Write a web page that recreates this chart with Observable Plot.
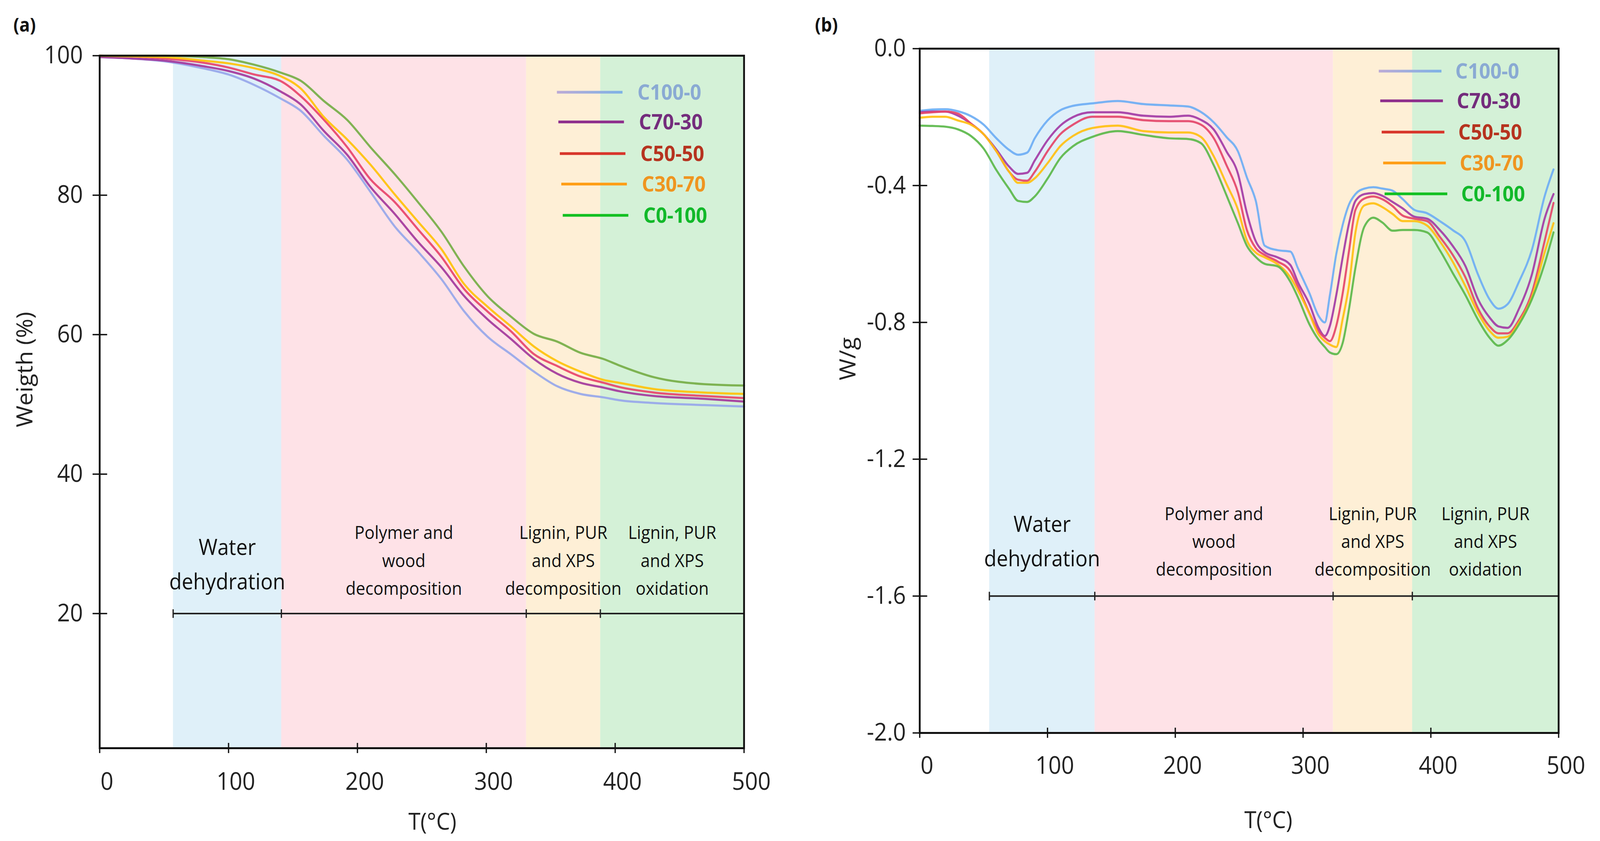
<!DOCTYPE html>
<html>
<head>
<meta charset="utf-8">
<script src="https://cdn.jsdelivr.net/npm/d3@7"></script>
<script src="https://cdn.jsdelivr.net/npm/@observablehq/plot@0.6"></script>
<style>
  html, body { margin: 0; padding: 0; background: #fff; overflow: hidden; }
  #outer { position: relative; overflow: hidden; width: 4390px; height: 2152px; background: #fff; }
  #wrap { position: absolute; left: 0; top: 0; width: 4390px; height: 2152px; background: #fff; transform-origin: 0 0; }
  #wrap > svg { position: absolute; top: 0; max-width: none !important; }
</style>
</head>
<body>
<div id="outer"><div id="wrap"></div></div>
<script>
// ---------------- data ----------------
const series = ["C100-0", "C70-30", "C50-50", "C30-70", "C0-100"];

// (a) TGA: weight (%) vs temperature
const tgaT      = [0, 25, 50, 80, 100, 120, 140, 156, 174, 192, 210, 229, 247, 265, 283, 301, 319, 337, 355, 373, 391, 403, 430, 469, 500];
const tgaC100_0 = [99.8, 99.6, 99.2, 98.2, 97.3, 95.8, 93.9, 92.1, 88.5, 85.1, 80.5, 75.5, 71.9, 68.0, 63.3, 59.7, 57.2, 54.7, 52.6, 51.5, 51.0, 50.6, 50.2, 49.9, 49.7];
const tgaC70_30 = [99.8, 99.6, 99.3, 98.5, 97.8, 96.7, 94.9, 93.0, 89.2, 85.8, 81.2, 77.3, 73.3, 69.7, 65.5, 62.2, 59.4, 56.5, 54.4, 53.1, 52.4, 51.9, 51.2, 50.8, 50.4];
const tgaC50_50 = [100, 99.9, 99.6, 99.0, 98.3, 97.3, 96.4, 94.2, 90.8, 86.9, 82.3, 79.0, 75.1, 71.2, 66.5, 63.3, 60.5, 57.2, 55.5, 54.0, 53.1, 52.5, 51.7, 51.2, 50.9];
const tgaC30_70 = [100, 99.9, 99.8, 99.3, 98.9, 98.2, 97.1, 95.3, 91.2, 88.0, 84.4, 80.1, 76.2, 72.3, 67.2, 64.0, 61.2, 58.3, 56.2, 54.7, 53.5, 53.1, 52.2, 51.7, 51.5];
const tgaC0_100 = [100, 100, 100, 99.8, 99.5, 98.7, 97.6, 96.4, 93.5, 90.8, 86.9, 83.0, 79.0, 74.8, 69.7, 65.5, 62.6, 60.1, 59.0, 57.4, 56.5, 55.6, 53.9, 52.9, 52.7];

// (b) DSC: heat flow (W/g) vs temperature
const dscT = [0, 10, 20, 30, 40, 50, 60, 70, 77, 84, 90, 100, 110, 120, 135, 155, 175, 195, 210, 220, 230, 240, 249, 256, 263, 270, 280, 290, 296, 305, 312, 317, 321, 326, 331, 336, 341, 348, 355, 362, 370, 378, 387, 397, 407, 417, 427, 437, 446, 453, 460, 469, 479, 489, 496];
const dscC100_0 = [-0.182, -0.178, -0.177, -0.183, -0.197, -0.222, -0.262, -0.296, -0.310, -0.304, -0.262, -0.210, -0.180, -0.167, -0.160, -0.153, -0.162, -0.166, -0.169, -0.185, -0.215, -0.258, -0.300, -0.376, -0.445, -0.576, -0.589, -0.593, -0.642, -0.715, -0.780, -0.800, -0.720, -0.600, -0.515, -0.455, -0.425, -0.409, -0.405, -0.409, -0.415, -0.440, -0.471, -0.481, -0.504, -0.530, -0.563, -0.661, -0.733, -0.760, -0.747, -0.681, -0.589, -0.432, -0.353];
const dscC70_30 = [-0.186, -0.184, -0.184, -0.196, -0.219, -0.250, -0.295, -0.345, -0.366, -0.363, -0.327, -0.268, -0.225, -0.200, -0.186, -0.186, -0.196, -0.199, -0.196, -0.208, -0.236, -0.300, -0.365, -0.480, -0.563, -0.595, -0.610, -0.632, -0.683, -0.747, -0.815, -0.840, -0.810, -0.720, -0.610, -0.510, -0.445, -0.425, -0.422, -0.430, -0.448, -0.467, -0.491, -0.497, -0.530, -0.576, -0.635, -0.733, -0.786, -0.812, -0.816, -0.760, -0.661, -0.497, -0.425];
const dscC50_50 = [-0.189, -0.186, -0.184, -0.190, -0.219, -0.250, -0.300, -0.360, -0.383, -0.386, -0.360, -0.300, -0.250, -0.222, -0.199, -0.199, -0.209, -0.212, -0.212, -0.222, -0.261, -0.340, -0.420, -0.530, -0.583, -0.603, -0.622, -0.650, -0.696, -0.773, -0.825, -0.845, -0.855, -0.810, -0.715, -0.590, -0.471, -0.438, -0.432, -0.440, -0.460, -0.488, -0.497, -0.504, -0.550, -0.602, -0.668, -0.760, -0.812, -0.832, -0.832, -0.793, -0.714, -0.563, -0.451];
const dscC30_70 = [-0.202, -0.199, -0.199, -0.210, -0.222, -0.250, -0.300, -0.360, -0.392, -0.392, -0.379, -0.335, -0.285, -0.255, -0.232, -0.225, -0.241, -0.245, -0.245, -0.258, -0.314, -0.395, -0.470, -0.560, -0.596, -0.610, -0.630, -0.668, -0.707, -0.775, -0.835, -0.855, -0.865, -0.872, -0.790, -0.690, -0.537, -0.458, -0.452, -0.463, -0.483, -0.504, -0.504, -0.517, -0.563, -0.622, -0.694, -0.773, -0.825, -0.845, -0.842, -0.800, -0.727, -0.596, -0.510];
const dscC0_100 = [-0.225, -0.226, -0.228, -0.236, -0.255, -0.292, -0.355, -0.410, -0.445, -0.448, -0.432, -0.380, -0.320, -0.285, -0.258, -0.241, -0.252, -0.262, -0.264, -0.276, -0.340, -0.428, -0.510, -0.576, -0.609, -0.629, -0.636, -0.681, -0.727, -0.806, -0.850, -0.872, -0.888, -0.893, -0.860, -0.760, -0.640, -0.520, -0.494, -0.508, -0.532, -0.530, -0.530, -0.537, -0.589, -0.655, -0.720, -0.793, -0.845, -0.868, -0.852, -0.806, -0.733, -0.629, -0.537];

// temperature regions
const regionNames = ["Water\ndehydration", "Polymer and\nwood\ndecomposition", "Lignin, PUR\nand XPS\ndecomposition", "Lignin, PUR\nand XPS\noxidation"];
const regionStartA = [57, 141, 331, 388.5];
const regionEndA   = [141, 331, 388.5, 500];
const regionStartB = [54.5, 137, 323.5, 385.5];
const regionEndB   = [137, 323.5, 385.5, 500];
const bracketA = 20;
const bracketB = -1.6;

// ticks
const xTicks  = [0, 100, 200, 300, 400, 500];
const yTicksA = [20, 40, 60, 80, 100];
const yTicksB = [0, -0.4, -0.8, -1.2, -1.6, -2.0];

// ---------------- styles ----------------
const bandColors   = ["#dff0f9", "#fee2e7", "#feefd6", "#d4f1d7"];
const curveColorsA = ["#97a7ea", "#a4399c", "#e8456b", "#ffc20a", "#76ae47"];
const curveColorsB = ["#6eaef4", "#a33ca6", "#e4466a", "#ffc012", "#5cb94b"];
const legendLineColors = [null, "#8e2e8c", "#d8352a", "#ff9d14", "#12c021"];
const legendTextColors = ["#8aaad3", "#742c7c", "#b6331f", "#ef9520", "#12b92a"];
const FONT = "'Open Sans', 'Noto Sans', sans-serif";
const W = 4390, H = 2152;

function tidy(T, arrays) {
  const out = [];
  arrays.forEach((a, k) => {
    const n = Math.min(T.length, a.length);
    for (let i = 0; i < n; ++i) out.push({T: T[i], v: a[i], s: series[k]});
  });
  return out;
}
const tgaData = tidy(tgaT, [tgaC100_0, tgaC70_30, tgaC50_50, tgaC30_70, tgaC0_100]);
const dscData = tidy(dscT, [dscC100_0, dscC70_30, dscC50_50, dscC30_70, dscC0_100]);

const vbar = {draw(ctx, size) { const r = Math.sqrt(size / Math.PI); ctx.moveTo(0, -r); ctx.lineTo(0, r); }};

function panel(o) {
  const regions = regionNames.map((name, i) => ({
    name, i, x1: o.start[i], x2: o.end[i], mid: (o.start[i] + o.end[i]) / 2
  }));
  const bracketTicks = [...o.start, 500];
  const marks = [];
  regions.forEach((r, i) => marks.push(Plot.rect([r], {x1: "x1", x2: "x2", fill: bandColors[i]})));
  series.forEach((s, k) => marks.push(
    Plot.line(o.data.filter(d => d.s === s), {x: "T", y: "v", stroke: o.colors[k], strokeWidth: 5.5, strokeOpacity: 0.92, curve: "monotone-x"})
  ));
  marks.push(
    Plot.ruleY([o.bracket], {x1: o.start[0], x2: 500, stroke: "#222", strokeWidth: 4}),
    Plot.dot(bracketTicks, {x: d => d, y: () => o.bracket, symbol: vbar, r: 11, fill: "none", stroke: "#222", strokeWidth: 3.5}),
    Plot.text(regions.filter(d => d.i === 0), {x: "mid", y: () => o.bracket, text: "name", lineAnchor: "bottom", lineHeight: 1.58, fontSize: 56, dy: o.dyWater, fill: "#111"}),
    Plot.text(regions.filter(d => d.i > 0), {x: "mid", y: () => o.bracket, text: "name", lineAnchor: "bottom", lineHeight: 1.55, fontSize: 46, dy: o.dyOther, fill: "#111"}),
    Plot.frame({stroke: "#111", strokeWidth: 5}),
    // tick marks crossing the axes
    Plot.axisY({ticks: o.yTicks, tickSize: 40, dx: 21, tickFormat: () => "", stroke: "#111", strokeWidth: 3.5, label: null}),
    Plot.axisX({ticks: xTicks, tickSize: 26, dy: -13, tickFormat: () => "", stroke: "#111", strokeWidth: 3.5, label: null}),
    // tick labels
    Plot.axisY({ticks: o.yTicks, tickSize: 0, tickPadding: o.yPad, tickFormat: o.yFmt, fontSize: 62, fill: "#222", label: null}),
    Plot.axisX({ticks: xTicks, tickSize: 0, tickPadding: o.xPad, dx: 20, tickFormat: d => String(d), fontSize: 62, fill: "#222", label: null}),
    // axis titles & panel tag
    Plot.text([o.yLabel], {frameAnchor: "left", textAnchor: "middle", lineAnchor: "middle", rotate: -90, dx: o.yLabelDx, dy: o.yLabelDy, fontSize: 60, fill: "#222"}),
    Plot.text(["T(°C)"], {frameAnchor: "bottom", textAnchor: "middle", lineAnchor: "middle", dx: o.xLabelDx, dy: o.xLabelDy, fontSize: 60, fill: "#222"}),
    Plot.text([o.tag], {frameAnchor: "top-left", textAnchor: "middle", lineAnchor: "middle", dx: o.tagDx, dy: o.tagDy, fontSize: 48, fontWeight: "bold", fill: "#111"})
  );
  const svg = Plot.plot({
    width: o.width, height: H,
    marginLeft: o.ml, marginRight: o.mr, marginTop: o.mt, marginBottom: o.mb,
    style: {fontFamily: FONT, background: "transparent", overflow: "visible"},
    x: {domain: [0, 500]},
    y: {domain: o.yDomain},
    marks
  });
  svg.style.left = o.left + "px";
  return svg;
}

const outer = document.getElementById("outer");
const wrap = document.getElementById("wrap");

wrap.appendChild(panel({
  left: 0, width: 2190, ml: 273, mr: 149, mt: 142, mb: 238,
  data: tgaData, colors: curveColorsA, yDomain: [0.7, 100], yTicks: yTicksA, yFmt: d => String(d),
  start: regionStartA, end: regionEndA, bracket: bracketA, dyWater: -62, dyOther: -48,
  yPad: 46, xPad: 62, yLabel: "Weigth (%)", yLabelDx: -204, yLabelDy: -83,
  xLabelDx: 29, xLabelDy: 189, tag: "(a)", tagDx: -206, tagDy: -77
}));

wrap.appendChild(panel({
  left: 2200, width: 2190, ml: 323, mr: 114, mt: 124, mb: 277,
  data: dscData, colors: curveColorsB, yDomain: [-2, 0], yTicks: yTicksB, yFmt: d => d.toFixed(1),
  start: regionStartB, end: regionEndB, bracket: bracketB, dyWater: -76, dyOther: -52,
  yPad: 38, xPad: 60, yLabel: "W/g", yLabelDx: -195, yLabelDy: -82,
  xLabelDx: 80, xLabelDy: 224, tag: "(b)", tagDx: -256, tagDy: -59
}));

// ---------------- legends (inside each plot) ----------------
const ov = d3.select(wrap).append("svg")
  .attr("width", W).attr("height", H)
  .style("left", "0px").style("pointer-events", "none");
const defs = ov.append("defs");

function legend(id, L) {
  const g = defs.append("linearGradient").attr("id", id).attr("gradientUnits", "userSpaceOnUse")
    .attr("x1", L.x1).attr("x2", L.x2).attr("y1", 0).attr("y2", 0);
  g.append("stop").attr("offset", "0%").attr("stop-color", "#bcaad6");
  g.append("stop").attr("offset", "100%").attr("stop-color", "#7db2e6");
  series.forEach((s, i) => {
    const y = L.rows[i], sh = L.stair * i;
    ov.append("line").attr("x1", L.x1 + sh).attr("x2", L.x2 + sh).attr("y1", y).attr("y2", y)
      .attr("stroke", i === 0 ? `url(#${id})` : legendLineColors[i]).attr("stroke-width", 7);
    ov.append("text").attr("x", L.tx + sh).attr("y", y).attr("dy", "0.36em")
      .attr("font-family", FONT).attr("font-weight", 700).attr("font-size", 54)
      .attr("fill", legendTextColors[i]).text(s);
  });
}
legend("lgA", {x1: 1528, x2: 1708, tx: 1749, rows: [236, 312, 393, 471, 551], stair: 4});
legend("lgB", {x1: 3783, x2: 3955, tx: 3993, rows: [182, 258, 338, 417, 496], stair: 4});

// map the 4390x2152 drawing exactly onto the viewport, whatever its CSS size
function fit() {
  const vw = window.innerWidth || W, vh = window.innerHeight || H;
  const sx = Math.min(1, vw / W), sy = Math.min(1, vh / H);
  const scaled = sx < 0.999 || sy < 0.999;
  wrap.style.transform = scaled ? `scale(${sx}, ${sy})` : "none";
  outer.style.width = Math.floor(W * sx) + "px";
  outer.style.height = Math.floor(H * sy) + "px";
}
fit();
window.addEventListener("resize", fit);
</script>
</body>
</html>
